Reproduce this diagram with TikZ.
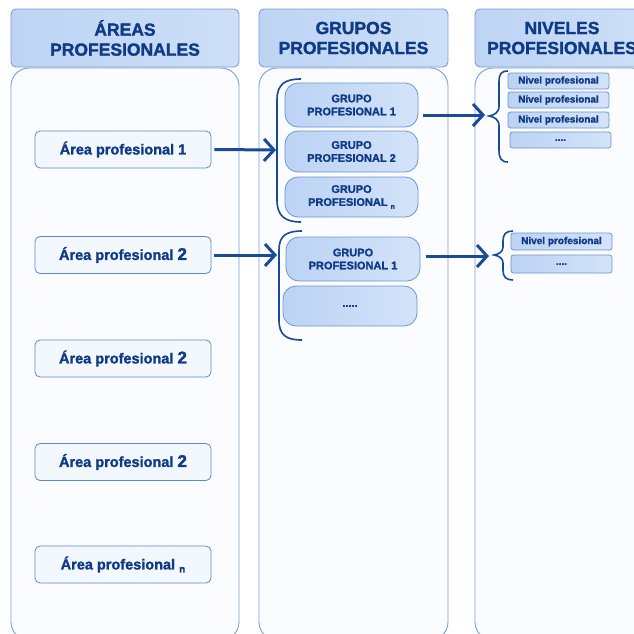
\documentclass[tikz,border=0pt]{standalone}
\usepackage{fontspec}
\setmainfont{Liberation Sans}[BoldFeatures={FakeBold=1.6}]
\usetikzlibrary{arrows.meta}
\definecolor{tblue}{HTML}{0F3A86}
\definecolor{bord}{HTML}{7B9ED4}
\definecolor{hdl}{HTML}{BDD4F4}
\definecolor{hdm}{HTML}{EEF4FD}
\definecolor{hdr}{HTML}{CDDFF7}
\definecolor{arr}{HTML}{1A4B98}
\definecolor{bodyfill}{HTML}{FBFCFF}
\definecolor{areafill}{HTML}{F3F8FF}
\definecolor{areabord}{HTML}{5F88C8}
\definecolor{grl}{HTML}{BCD3F4}
\definecolor{grm}{HTML}{F3F8FF}
\definecolor{grr}{HTML}{D3E3F9}
\definecolor{grbord}{HTML}{6E95D0}
\begin{document}
\begin{tikzpicture}[x=1pt,y=-1pt,
  hdrbox/.style={draw=bord, line width=0.9pt, rounded corners=5pt,
    left color=hdl, middle color=hdm, right color=hdr, text=tblue,
    font=\fontsize{17.5}{20}\selectfont\bfseries, align=center, inner sep=0pt,
    minimum height=58pt},
  bodybox/.style={draw=bord, line width=0.9pt, rounded corners=18pt, fill=bodyfill,
    inner sep=0pt, minimum height=572pt},
  areabox/.style={draw=areabord, line width=0.8pt, rounded corners=5pt, fill=areafill,
    text=tblue, font=\fontsize{14.5}{16}\selectfont\bfseries, inner sep=0pt,
    minimum width=176pt, minimum height=37pt},
  grupobox/.style={draw=grbord, line width=0.8pt, rounded corners=13pt,
    left color=grl, middle color=grm, right color=grr, text=tblue,
    font=\fontsize{11}{13}\selectfont\bfseries, align=center, inner sep=0pt,
    minimum width=133pt},
  nivelbox/.style={draw=grbord, line width=0.8pt, rounded corners=2.5pt,
    left color=grl, middle color=grm, right color=grr, text=tblue,
    font=\fontsize{10}{11}\selectfont\bfseries, inner sep=0pt,
    minimum width=101pt, minimum height=16pt},
  arrowline/.style={draw=arr, line width=3pt, -{Straight Barb[length=10pt,width=22pt]}},
  brk/.style={draw=arr, line width=1.6pt}
]
\useasboundingbox (0,0) rectangle (634,633);
\clip (0,0) rectangle (634,633);
\fill[white] (0,0) rectangle (634,633);

% column bodies
\node[bodybox, minimum width=228pt] (B1) at (125,354) {};
\node[bodybox, minimum width=189pt] (B2) at (353.5,354) {};
\node[bodybox, minimum width=174pt] (B3) at (562,354) {};

% headers
\node[hdrbox, minimum width=228pt] (H1) at (125,38) {ÁREAS\\PROFESIONALES};
\node[hdrbox, minimum width=189pt] (H2) at (353.5,38) {GRUPOS\\PROFESIONALES};
\node[hdrbox, minimum width=174pt] (H3) at (562,38) {NIVELES\\PROFESIONALES};

% area boxes
\node[areabox] (A1) at (123,149.5) {Área profesional 1};
\node[areabox] (A2) at (123,255) {Área profesional {\fontsize{17}{16}\selectfont 2}};
\node[areabox] (A3) at (123,358.5) {Área profesional {\fontsize{17}{16}\selectfont 2}};
\node[areabox] (A4) at (123,462) {Área profesional {\fontsize{17}{16}\selectfont 2}};
\node[areabox] (A5) at (123,564.5) {Área profesional \raisebox{-3pt}{\fontsize{10}{10}\selectfont n}};

% grupo boxes
\node[grupobox, minimum height=44pt] (G1) at (351.5,105) {GRUPO\\PROFESIONAL 1};
\node[grupobox, minimum height=41pt] (G2) at (351.5,151.5) {GRUPO\\PROFESIONAL 2};
\node[grupobox, minimum height=40pt] (G3) at (351.5,197) {GRUPO\\PROFESIONAL \raisebox{-3pt}{\fontsize{7}{7}\selectfont n}};
\node[grupobox, minimum width=134pt, minimum height=44pt] (G4) at (353,259) {GRUPO\\PROFESIONAL 1};
\node[grupobox, minimum width=134pt, minimum height=40pt] (G5) at (350,306) {.....};

% nivel boxes
\node[nivelbox] (N1) at (558.5,81) {Nivel profesional};
\node[nivelbox] (N2) at (558.5,100) {Nivel profesional};
\node[nivelbox] (N3) at (558.5,120) {Nivel profesional};
\node[nivelbox] (N4) at (560.5,140) {....};
\node[nivelbox, minimum height=17pt] (N5) at (561.5,241.5) {Nivel profesional};
\node[nivelbox, minimum height=18pt] (N6) at (561.5,264) {....};

% brackets
\draw[brk] (301,79) .. controls (285,79) and (277,84) .. (277,100) -- (277,200)
  .. controls (277,216) and (285,222) .. (301,222);
\draw[brk] (302,231) .. controls (286,231) and (279,236) .. (279,250) -- (279,320)
  .. controls (279,335) and (286,340) .. (302,340);
\draw[brk] (508,71) .. controls (501,71) and (499,74) .. (499,82) -- (499,106)
  .. controls (499,113) and (494,115) .. (489,116) .. controls (494,117) and (499,119) .. (499,126)
  -- (499,150) .. controls (499,158) and (501,162) .. (508,162);
\draw[brk] (513,231) .. controls (506,231) and (503,234) .. (503,241) -- (503,247)
  .. controls (503,252) and (499,254) .. (494,255) .. controls (499,256) and (503,258) .. (503,263)
  -- (503,270) .. controls (503,277) and (506,280) .. (513,280);

% arrow end points
\coordinate (t1) at (276,150);
\coordinate (t2) at (277,255);
\coordinate (s3) at (423,115);
\coordinate (t3) at (485,115);
\coordinate (s4) at (426,256);
\coordinate (t4) at (489,256);

\draw[arrowline] ([xshift=3pt]A1.east) -- (t1);
\draw[arrowline] ([xshift=3pt]A2.east) -- (t2);
\draw[arrowline] (s3) -- (t3);
\draw[arrowline] (s4) -- (t4);
\end{tikzpicture}
\end{document}
